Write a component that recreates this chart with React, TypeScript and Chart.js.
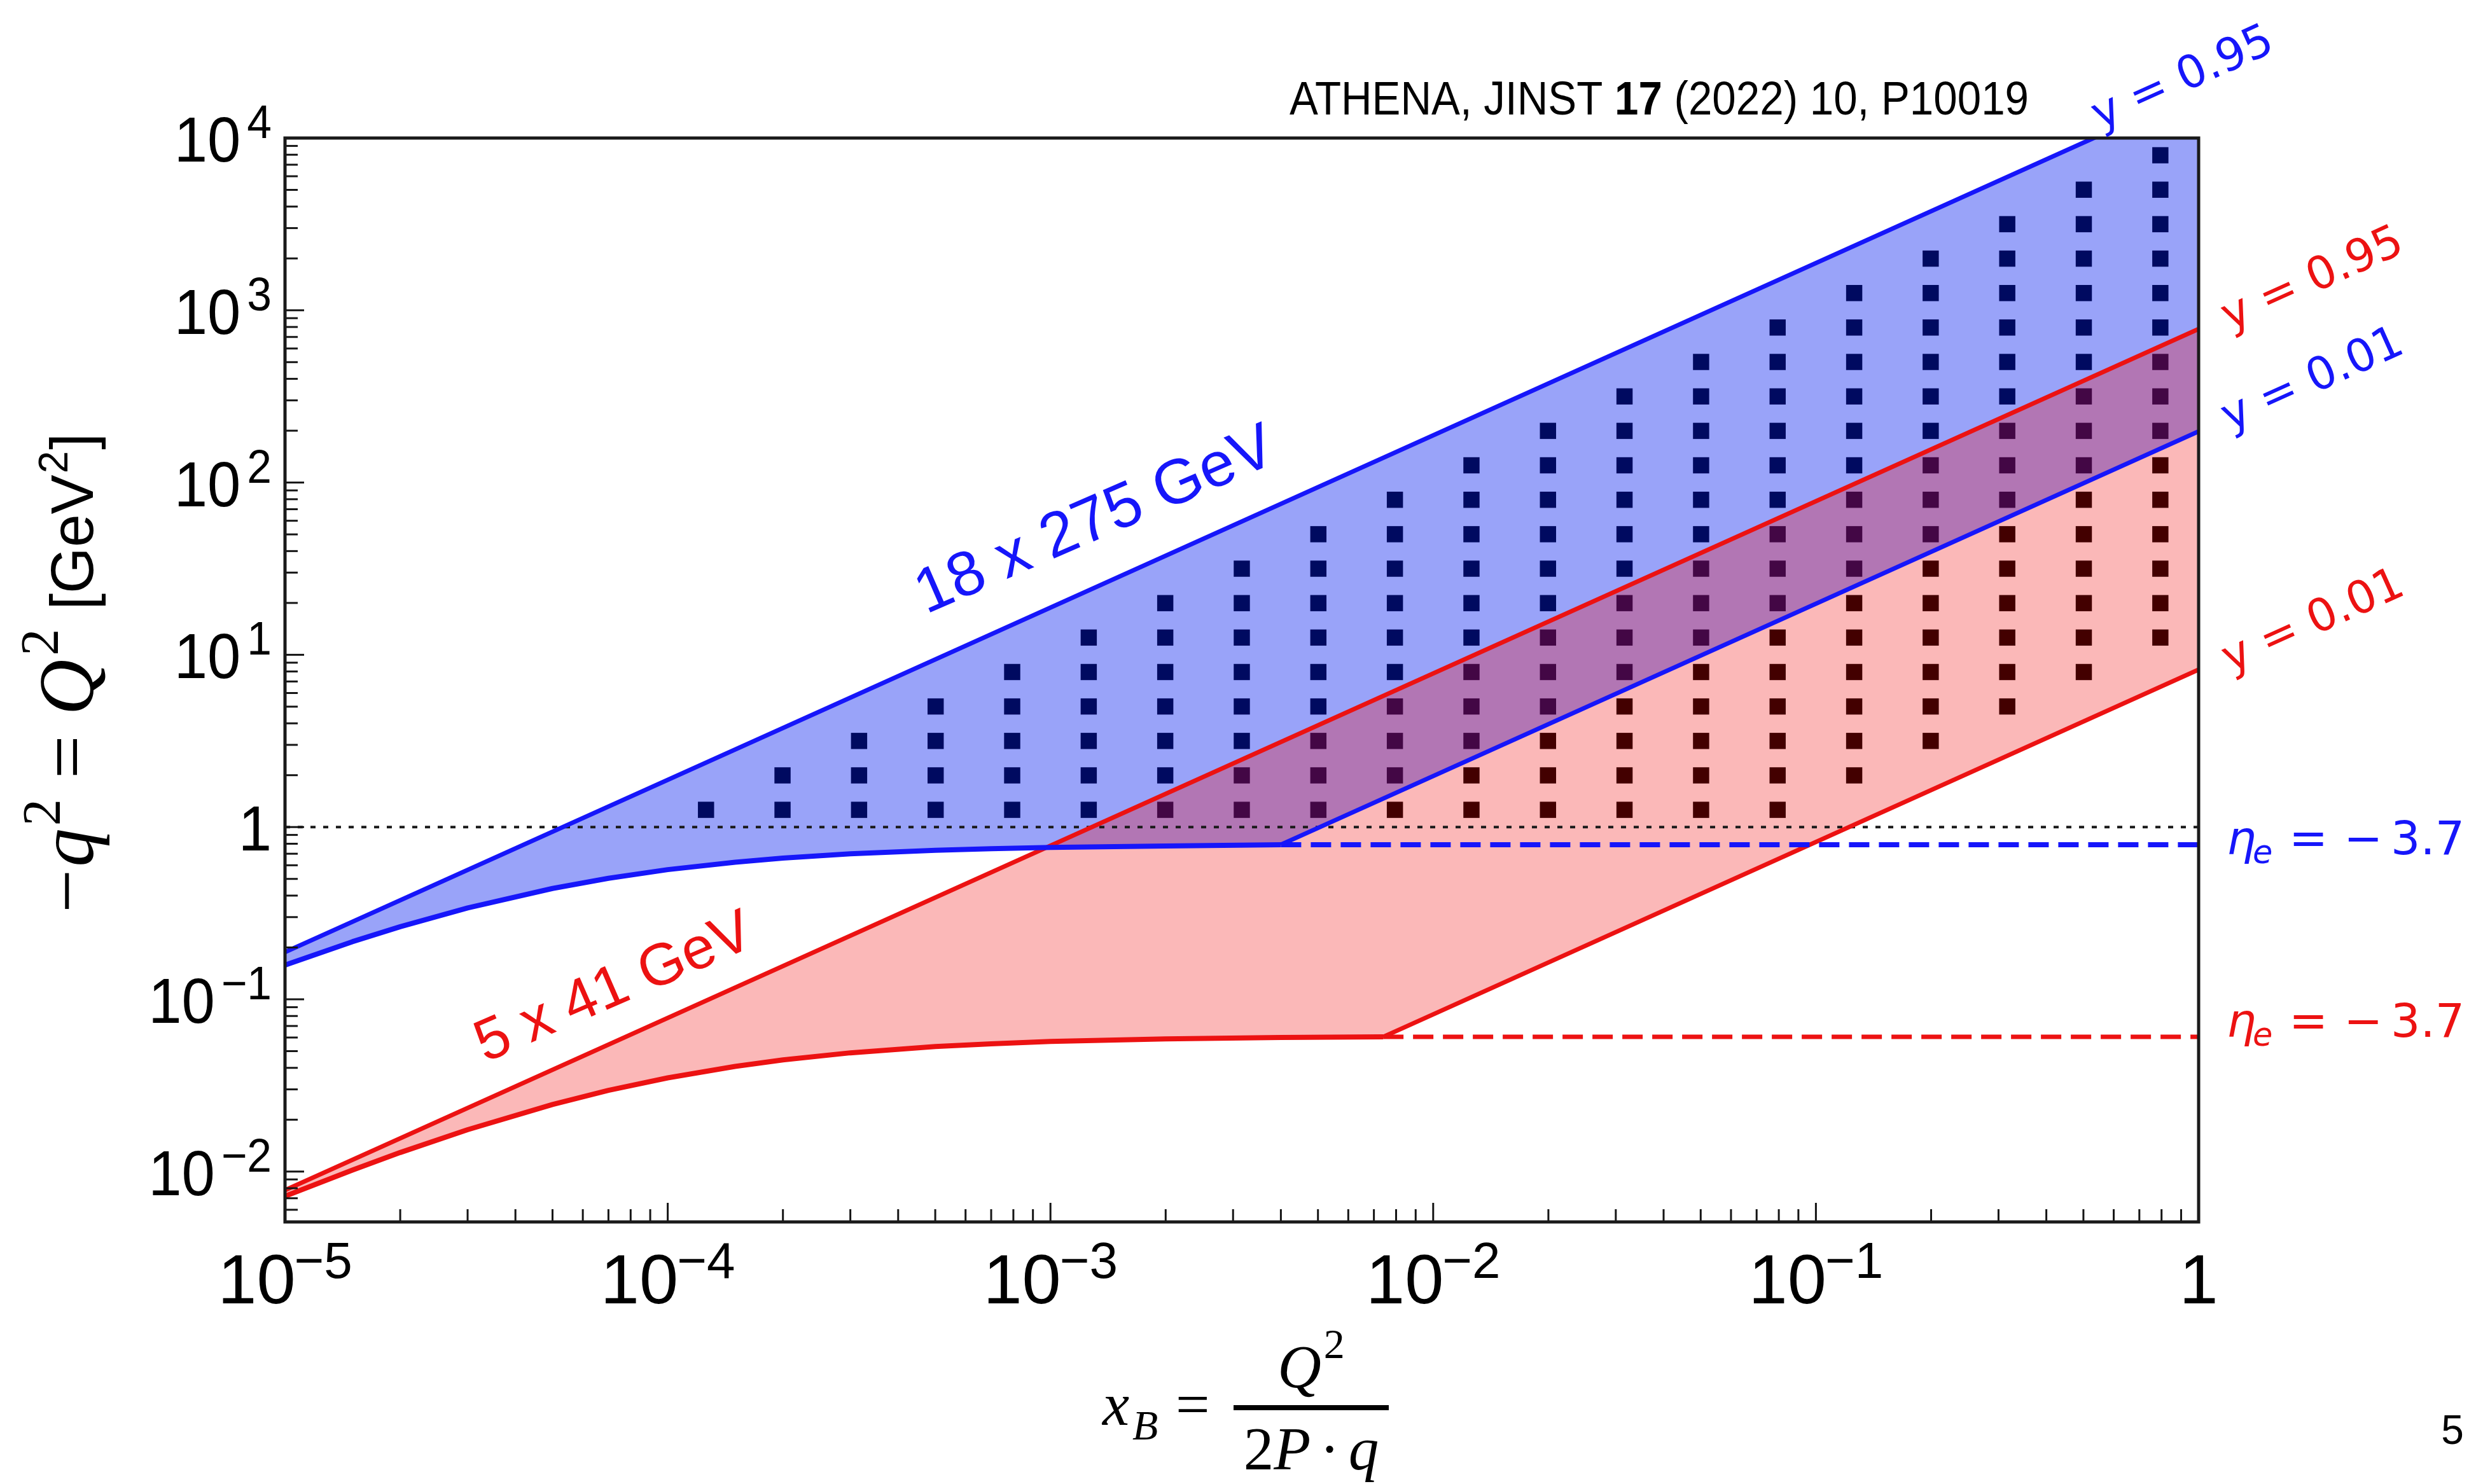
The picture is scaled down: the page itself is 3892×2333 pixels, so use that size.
import React, { useEffect, useRef } from 'react';
import { Chart, registerables } from 'chart.js';

Chart.register(...registerables);

const CANVAS_W = 3892;
const CANVAS_H = 2333;

// ---------------- axis ranges ----------------
const X_MIN = 1e-5;
const X_MAX = 1;
const Q2_MIN = 0.0051;
const Q2_MAX = 1e4;

// ---------------- 18 x 275 GeV (blue) ----------------
const blueY095X = [1e-5, 1];
const blueY095 = [0.188, 18800];
const blueY001X = [0.004, 1];
const blueY001 = [0.79, 198];
const blueEtaX = [1e-5, 1.5e-5, 2e-5, 3e-5, 5e-5, 7e-5, 1e-4, 1.5e-4, 2e-4, 3e-4, 5e-4, 7e-4, 1e-3, 2e-3, 4e-3];
const blueEta = [0.158, 0.216, 0.264, 0.339, 0.44, 0.504, 0.566, 0.625, 0.66, 0.699, 0.733, 0.749, 0.762, 0.776, 0.79];
const blueEtaDashX = [0.004, 1];
const blueEtaDash = [0.79, 0.79];

// ---------------- 5 x 41 GeV (red) ----------------
const redY095X = [1e-5, 1];
const redY095 = [0.0078, 779];
const redY001X = [0.0074, 1];
const redY001 = [0.0605, 8.2];
const redEtaX = [1e-5, 1.5e-5, 2e-5, 3e-5, 5e-5, 7e-5, 1e-4, 1.5e-4, 2e-4, 3e-4, 5e-4, 7e-4, 1e-3, 2e-3, 4e-3, 7.4e-3];
const redEta = [0.0072, 0.0102, 0.0129, 0.0175, 0.0245, 0.0296, 0.035, 0.0408, 0.0445, 0.0489, 0.0532, 0.0552, 0.0569, 0.0589, 0.06, 0.0605];
const redEtaDashX = [0.0074, 1];
const redEtaDash = [0.0605, 0.0605];

// ---------------- Q2 = 1 reference line ----------------
const refLineX = [1e-5, 1];
const refLineQ2 = [1, 1];

// ---------------- (x, Q2) bins ----------------
const binX = [1.259e-4, 1.995e-4, 3.162e-4, 5.012e-4, 7.943e-4, 1.259e-3, 1.995e-3, 3.162e-3, 5.012e-3, 7.943e-3,
  1.259e-2, 1.995e-2, 3.162e-2, 5.012e-2, 7.943e-2, 0.1259, 0.1995, 0.3162, 0.5012, 0.7943];
const binQ2 = [1.259, 1.995, 3.162, 5.012, 7.943, 12.59, 19.95, 31.62, 50.12, 79.43,
  125.9, 199.5, 316.2, 501.2, 794.3, 1259, 1995, 3162, 5012, 7943];
const binRowLow = [0, 0, 0, 0, 0, 0, 0, 0, 0, 0, 0, 0, 0, 0, 0, 1, 2, 3, 4, 5];
const binRowHigh = [0, 1, 2, 3, 4, 5, 6, 7, 8, 9, 10, 11, 12, 13, 14, 15, 16, 17, 18, 19];

// ---------------- ticks ----------------
const xMajorTicks = [1e-5, 1e-4, 1e-3, 1e-2, 1e-1, 1];
const xTickBase = ['10', '10', '10', '10', '10', '1'];
const xTickExp = ['−5', '−4', '−3', '−2', '−1', ''];
const yMajorTicks = [1e-2, 1e-1, 1, 10, 100, 1e3, 1e4];
const yTickBase = ['10', '10', '1', '10', '10', '10', '10'];
const yTickExp = ['−2', '−1', '', '1', '2', '3', '4'];
const minorMultipliers = [2, 3, 4, 5, 6, 7, 8, 9];
const xMinorDecades = [1e-5, 1e-4, 1e-3, 1e-2, 1e-1];
const yMinorDecades = [1e-3, 1e-2, 1e-1, 1, 10, 100, 1e3];

// ---------------- styles ----------------
const BLUE = 'rgb(22,22,250)';
const RED = 'rgb(236,18,18)';
const BLUE_FILL = 'rgba(0,25,240,0.40)';
const RED_FILL = 'rgba(240,0,0,0.28)';
const SANS = '"Liberation Sans", Arial, Helvetica, sans-serif';
const SERIF = '"Liberation Serif", "Times New Roman", serif';
const DEJAVU = '"DejaVu Sans", Verdana, sans-serif';

const pts = (xs: number[], ys: number[]) => xs.map((x, i) => ({ x, y: ys[i] }));

const xMinorTicks: number[] = [];
xMinorDecades.forEach((d) => minorMultipliers.forEach((m) => {
  const v = d * m;
  if (v > X_MIN && v < X_MAX) xMinorTicks.push(v);
}));
const yMinorTicks: number[] = [];
yMinorDecades.forEach((d) => minorMultipliers.forEach((m) => {
  const v = d * m;
  if (v > Q2_MIN && v < Q2_MAX) yMinorTicks.push(v);
}));

const squarePoints: { x: number; y: number }[] = [];
binX.forEach((x, i) => {
  for (let j = binRowLow[i]; j <= binRowHigh[i]; j++) squarePoints.push({ x, y: binQ2[j] });
});

const blueRegion = [
  ...pts(blueY095X, blueY095),
  ...pts(blueY001X, blueY001).reverse(),
  ...pts(blueEtaX, blueEta).reverse(),
];
const redRegion = [
  ...pts(redY095X, redY095),
  ...pts(redY001X, redY001).reverse(),
  ...pts(redEtaX, redEta).reverse(),
];

type Run = { t: string; font: string; dy?: number; gap?: number };

function textW(ctx: CanvasRenderingContext2D, t: string, font: string) {
  ctx.font = font;
  return ctx.measureText(t).width;
}
function drawText(ctx: CanvasRenderingContext2D, t: string, x: number, y: number, font: string, color: string, hs = 1) {
  ctx.save();
  ctx.translate(x, y);
  ctx.scale(hs, 1);
  ctx.font = font;
  ctx.fillStyle = color;
  ctx.textAlign = 'left';
  ctx.textBaseline = 'alphabetic';
  ctx.fillText(t, 0, 0);
  ctx.restore();
}
function runsWidth(ctx: CanvasRenderingContext2D, runs: Run[]) {
  return runs.reduce((s, r) => s + textW(ctx, r.t, r.font) + (r.gap || 0), 0);
}
function drawRuns(ctx: CanvasRenderingContext2D, runs: Run[], color: string) {
  let cx = 0;
  ctx.textAlign = 'left';
  ctx.textBaseline = 'alphabetic';
  ctx.fillStyle = color;
  for (const r of runs) {
    cx += r.gap || 0;
    ctx.font = r.font;
    ctx.fillText(r.t, cx, r.dy || 0);
    cx += ctx.measureText(r.t).width;
  }
}
function rotatedLabel(ctx: CanvasRenderingContext2D, t: string, x: number, y: number, deg: number, font: string, color: string, baseline: CanvasTextBaseline = 'middle') {
  ctx.save();
  ctx.translate(x, y);
  ctx.rotate((-deg * Math.PI) / 180);
  ctx.font = font;
  ctx.fillStyle = color;
  ctx.textAlign = 'center';
  ctx.textBaseline = baseline;
  ctx.fillText(t, 0, 0);
  ctx.restore();
}
function etaLabel(ctx: CanvasRenderingContext2D, baseline: number, color: string) {
  drawText(ctx, 'η', 3500, baseline, `italic 73px ${DEJAVU}`, color);
  drawText(ctx, 'e', 3541, baseline + 14, `italic 51px ${DEJAVU}`, color);
  drawText(ctx, '=', 3598, baseline, `73px ${DEJAVU}`, color);
  drawText(ctx, '−', 3684, baseline, `73px ${DEJAVU}`, color);
  drawText(ctx, '3.7', 3758, baseline, `73px ${DEJAVU}`, color);
}

const decorPlugin = {
  id: 'decor',
  afterDraw(chart: any) {
    const ctx: CanvasRenderingContext2D = chart.ctx;
    const a = chart.chartArea;
    const sx = chart.scales.x;
    const sy = chart.scales.y;
    ctx.save();

    // inward tick marks
    ctx.strokeStyle = '#151515';
    ctx.lineWidth = 3;
    ctx.lineCap = 'butt';
    const seg = (x1: number, y1: number, x2: number, y2: number) => {
      ctx.beginPath(); ctx.moveTo(x1, y1); ctx.lineTo(x2, y2); ctx.stroke();
    };
    xMinorTicks.forEach((v) => { const p = sx.getPixelForValue(v); seg(p, a.bottom, p, a.bottom - 20); });
    xMajorTicks.forEach((v) => { const p = sx.getPixelForValue(v); seg(p, a.bottom, p, a.bottom - 30); });
    yMinorTicks.forEach((v) => { const p = sy.getPixelForValue(v); seg(a.left, p, a.left + 20, p); });
    yMajorTicks.forEach((v) => { const p = sy.getPixelForValue(v); seg(a.left, p, a.left + 30, p); });

    // frame
    ctx.lineWidth = 5;
    ctx.strokeStyle = '#1a1a1a';
    ctx.strokeRect(a.left, a.top, a.right - a.left, a.bottom - a.top);

    // y tick labels
    const yHs = 0.94;
    yMajorTicks.forEach((v, i) => {
      const py = sy.getPixelForValue(v);
      const bf = `100px ${SANS}`;
      const ef = `74px ${SANS}`;
      const wb = textW(ctx, yTickBase[i], bf) * yHs;
      const we = yTickExp[i] ? textW(ctx, yTickExp[i], ef) * yHs : 0;
      const gap = yTickExp[i] ? 10 : 0;
      const x0 = a.left - 21 - wb - gap - we;
      drawText(ctx, yTickBase[i], x0, py + 37, bf, '#000', yHs);
      if (yTickExp[i]) drawText(ctx, yTickExp[i], x0 + wb + gap, py, ef, '#000', yHs);
    });

    // x tick labels
    xMajorTicks.forEach((v, i) => {
      const px = sx.getPixelForValue(v);
      const bf = `110px ${SANS}`;
      const ef = `80px ${SANS}`;
      const wb = textW(ctx, xTickBase[i], bf);
      const we = xTickExp[i] ? textW(ctx, xTickExp[i], ef) : 0;
      const gap = xTickExp[i] ? -2 : 0;
      const x0 = px - (wb + gap + we) / 2;
      drawText(ctx, xTickBase[i], x0, a.bottom + 128, bf, '#000');
      if (xTickExp[i]) drawText(ctx, xTickExp[i], x0 + wb + gap, a.bottom + 88, ef, '#000');
    });

    // y axis title
    const yTitle: Run[] = [
      { t: '−', font: `122px ${SERIF}` },
      { t: 'q', font: `italic 122px ${SERIF}`, gap: 4 },
      { t: '2', font: `85px ${SERIF}`, dy: -52, gap: 4 },
      { t: '=', font: `122px ${SERIF}`, gap: 32 },
      { t: 'Q', font: `italic 122px ${SERIF}`, gap: 32 },
      { t: '2', font: `85px ${SERIF}`, dy: -55, gap: 6 },
      { t: '[GeV', font: `94px ${SANS}`, gap: 30 },
      { t: '2', font: `64px ${SANS}`, dy: -40, gap: 2 },
      { t: ']', font: `94px ${SANS}`, gap: 2 },
    ];
    ctx.save();
    ctx.translate(146, 1435);
    ctx.rotate(-Math.PI / 2);
    const yw = runsWidth(ctx, yTitle);
    ctx.scale(754 / yw, 1);
    drawRuns(ctx, yTitle, '#000');
    ctx.restore();

    // x axis title
    drawText(ctx, 'x', 1733, 2240, `italic 95px ${SERIF}`, '#000');
    drawText(ctx, 'B', 1780, 2263, `italic 66px ${SERIF}`, '#000');
    drawText(ctx, '=', 1848, 2240, `95px ${SERIF}`, '#000');
    ctx.fillStyle = '#000';
    ctx.fillRect(1939, 2209, 244, 8);
    const num: Run[] = [
      { t: 'Q', font: `italic 95px ${SERIF}` },
      { t: '2', font: `66px ${SERIF}`, dy: -46, gap: 4 },
    ];
    const den: Run[] = [
      { t: '2', font: `95px ${SERIF}` },
      { t: 'P', font: `italic 95px ${SERIF}` },
      { t: '·', font: `95px ${SERIF}`, gap: 14 },
      { t: 'q', font: `italic 95px ${SERIF}`, gap: 14 },
    ];
    ctx.save();
    ctx.translate(2061 - runsWidth(ctx, num) / 2, 2181);
    drawRuns(ctx, num, '#000');
    ctx.restore();
    ctx.save();
    ctx.translate(2061 - runsWidth(ctx, den) / 2, 2310);
    drawRuns(ctx, den, '#000');
    ctx.restore();

    // reference text
    const ref: Run[] = [
      { t: 'ATHENA, JINST ', font: `74px ${SANS}` },
      { t: '17', font: `bold 74px ${SANS}` },
      { t: ' (2022) 10, P10019', font: `74px ${SANS}` },
    ];
    ctx.save();
    ctx.translate(2027, 180);
    const rw = runsWidth(ctx, ref);
    ctx.scale(1162 / rw, 1);
    drawRuns(ctx, ref, '#000');
    ctx.restore();

    // page number
    ctx.font = `64px ${SANS}`;
    ctx.fillStyle = '#000';
    ctx.textAlign = 'center';
    ctx.textBaseline = 'alphabetic';
    ctx.fillText('5', 3855, 2270);

    // energy labels
    rotatedLabel(ctx, '18 x 275 GeV', 1733, 845, 23.5, `99px ${SANS}`, BLUE, 'alphabetic');
    rotatedLabel(ctx, '5 x 41 GeV', 976, 1578, 23.5, `93px ${SANS}`, RED, 'alphabetic');

    // y = ... labels
    rotatedLabel(ctx, 'y = 0.95', 3432, 125, 24.2, `71px ${DEJAVU}`, BLUE);
    rotatedLabel(ctx, 'y = 0.95', 3636, 441, 24.2, `71px ${DEJAVU}`, RED);
    rotatedLabel(ctx, 'y = 0.01', 3636, 599, 24.2, `71px ${DEJAVU}`, BLUE);
    rotatedLabel(ctx, 'y = 0.01', 3637, 979, 24.2, `71px ${DEJAVU}`, RED);

    // eta labels
    etaLabel(ctx, 1343, BLUE);
    etaLabel(ctx, 1630, RED);

    ctx.restore();
  },
};

function lineDs(label: string, data: any[], color: string, width: number, order: number, dash: number[] = []) {
  return {
    label,
    data,
    borderColor: color,
    backgroundColor: color,
    borderWidth: width,
    borderDash: dash,
    borderCapStyle: 'butt' as const,
    borderJoinStyle: 'round' as const,
    pointRadius: 0,
    fill: false,
    tension: 0,
    order,
  };
}

export default function App() {
  const ref = useRef<HTMLCanvasElement>(null);

  useEffect(() => {
    const canvas = ref.current;
    if (!canvas) return;
    const datasets: any[] = [
      lineDs('18x275 y=0.95', pts(blueY095X, blueY095), BLUE, 7, 1),
      lineDs('18x275 y=0.01', pts(blueY001X, blueY001), BLUE, 7, 1),
      lineDs('18x275 eta=-3.7', pts(blueEtaX, blueEta), BLUE, 8, 1),
      lineDs('18x275 eta=-3.7 (ext)', pts(blueEtaDashX, blueEtaDash), BLUE, 8, 1, [32, 15]),
      lineDs('5x41 y=0.95', pts(redY095X, redY095), RED, 7, 1),
      lineDs('5x41 y=0.01', pts(redY001X, redY001), RED, 7, 1),
      lineDs('5x41 eta=-3.7', pts(redEtaX, redEta), RED, 8, 1),
      lineDs('5x41 eta=-3.7 (ext)', pts(redEtaDashX, redEtaDash), RED, 7, 1, [32, 15]),
      lineDs('Q2 = 1', pts(refLineX, refLineQ2), '#1a1a1a', 4, 2, [8, 12]),
      {
        label: '5x41 region',
        data: redRegion,
        borderColor: 'rgba(0,0,0,0)',
        backgroundColor: RED_FILL,
        borderWidth: 0,
        pointRadius: 0,
        tension: 0,
        fill: 'shape',
        order: 4,
      },
      {
        label: '18x275 region',
        data: blueRegion,
        borderColor: 'rgba(0,0,0,0)',
        backgroundColor: BLUE_FILL,
        borderWidth: 0,
        pointRadius: 0,
        tension: 0,
        fill: 'shape',
        order: 5,
      },
      {
        label: 'bins',
        data: squarePoints,
        showLine: false,
        pointStyle: 'rect',
        pointRadius: 18,
        pointBorderWidth: 0,
        borderWidth: 0,
        backgroundColor: '#000',
        pointBackgroundColor: '#000',
        order: 6,
      },
    ];

    const chart = new Chart(canvas, {
      type: 'line',
      data: { datasets },
      options: {
        animation: false,
        responsive: false,
        devicePixelRatio: 1,
        events: [],
        layout: { padding: { left: 448, top: 217, right: CANVAS_W - 3456, bottom: CANVAS_H - 1921 } },
        plugins: {
          legend: { display: false },
          tooltip: { enabled: false },
          title: { display: false },
        },
        scales: {
          x: {
            type: 'logarithmic',
            min: X_MIN,
            max: X_MAX,
            display: true,
            grid: { display: false, drawTicks: false },
            border: { display: false },
            ticks: { display: false },
          },
          y: {
            type: 'logarithmic',
            min: Q2_MIN,
            max: Q2_MAX,
            display: true,
            grid: { display: false, drawTicks: false },
            border: { display: false },
            ticks: { display: false },
          },
        },
      } as any,
      plugins: [decorPlugin],
    });
    return () => chart.destroy();
  }, []);

  return (
    <div style={{ position: 'fixed', left: 0, top: 0, width: CANVAS_W, height: CANVAS_H, background: '#fff' }}>
      <canvas ref={ref} width={CANVAS_W} height={CANVAS_H} style={{ display: 'block', width: CANVAS_W, height: CANVAS_H }} />
    </div>
  );
}
